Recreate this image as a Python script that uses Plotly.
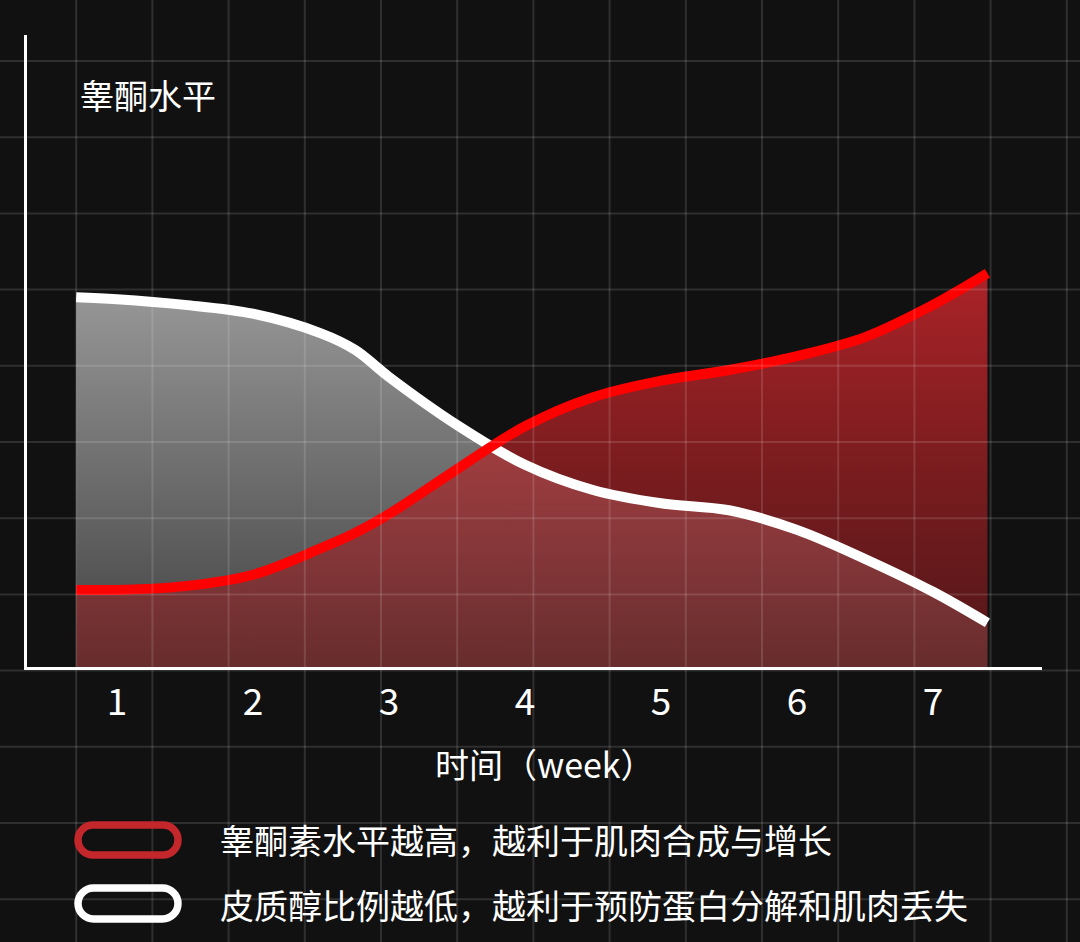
import plotly.graph_objects as go

# ---------------- data ----------------
weeks = [0.7, 1, 1.5, 2, 2.5, 2.75, 3, 3.5, 4, 4.5, 5, 5.5, 6, 6.5, 7, 7.4]
cortisol = [58.5, 58.2, 57.3, 55.9, 52.8, 50.2, 45.9, 38.3, 32.0, 28.0, 25.9, 24.8, 21.7, 17.1, 11.9, 7.0]
testosterone = [12.2, 12.2, 12.8, 14.6, 18.8, 21.2, 24.2, 31.3, 38.1, 42.7, 45.3, 47.0, 49.2, 52.2, 57.3, 62.3]
tick_vals = [1, 2, 3, 4, 5, 6, 7]
tick_text = ["1", "2", "3", "4", "5", "6", "7"]
y_title = "睾酮水平"
x_title = "时间（week）"
legend_texts = ["睾酮素水平越高，越利于肌肉合成与增长", "皮质醇比例越低，越利于预防蛋白分解和肌肉丢失"]

# ---------------- layout geometry ----------------
W, H = 1080, 942
L, R, T, B = 27, 38, 35, 275
PW, PH = W - L - R, H - T - B
FONT = "Noto Sans CJK SC"


def px(xp):
    return (xp - L) / PW


def py(yp):
    return (H - B - yp) / PH


fig = go.Figure()

# fills first (so lines sit on top of both fills)
fig.add_trace(go.Scatter(
    x=weeks, y=cortisol, mode="lines", line=dict(width=0, shape="spline", color="rgba(0,0,0,0)"),
    fill="tozeroy",
    fillgradient=dict(type="vertical", start=0, stop=max(cortisol),
                      colorscale=[[0, "rgba(255,255,255,0.20)"], [1, "rgba(255,255,255,0.56)"]]),
    hoverinfo="skip", showlegend=False))
fig.add_trace(go.Scatter(
    x=weeks, y=testosterone, mode="lines", line=dict(width=0, shape="spline", color="rgba(0,0,0,0)"),
    fill="tozeroy",
    fillgradient=dict(type="vertical", start=0, stop=max(testosterone),
                      colorscale=[[0, "rgba(135,28,30,0.55)"], [1, "rgba(215,40,46,0.78)"]]),
    hoverinfo="skip", showlegend=False))
# lines
fig.add_trace(go.Scatter(x=weeks, y=cortisol, mode="lines",
                         line=dict(width=10, shape="spline", color="#ffffff"),
                         hoverinfo="skip", showlegend=False))
fig.add_trace(go.Scatter(x=weeks, y=testosterone, mode="lines",
                         line=dict(width=10, shape="spline", color="#ff0000"),
                         hoverinfo="skip", showlegend=False))

x0 = 1 + (L - 117) / 136
x1 = 1 + (W - R - 117) / 136

shapes = []
# background grid (whole picture)
grid_col = "rgba(255,255,255,0.13)"
for k in range(1, 15):
    xp = 76.2 * k
    shapes.append(dict(type="line", xref="paper", yref="paper", x0=px(xp), x1=px(xp),
                       y0=py(0), y1=py(H), line=dict(color=grid_col, width=2), layer="above"))
for k in range(0, 12):
    yp = 61 + 76.2 * k
    shapes.append(dict(type="line", xref="paper", yref="paper", x0=px(0), x1=px(W),
                       y0=py(yp), y1=py(yp), line=dict(color=grid_col, width=2), layer="above"))


def pill(xl, yt, xr, yb):
    r = (yb - yt) / 2
    k = 0.5523 * r
    pts = []
    pts.append(f"M{px(xl + r)},{py(yt)}")
    pts.append(f"L{px(xr - r)},{py(yt)}")
    pts.append(f"C{px(xr - r + k)},{py(yt)} {px(xr)},{py(yt + r - k)} {px(xr)},{py(yt + r)}")
    pts.append(f"C{px(xr)},{py(yt + r + k)} {px(xr - r + k)},{py(yb)} {px(xr - r)},{py(yb)}")
    pts.append(f"L{px(xl + r)},{py(yb)}")
    pts.append(f"C{px(xl + r - k)},{py(yb)} {px(xl)},{py(yt + r + k)} {px(xl)},{py(yt + r)}")
    pts.append(f"C{px(xl)},{py(yt + r - k)} {px(xl + r - k)},{py(yt)} {px(xl + r)},{py(yt)}")
    pts.append("Z")
    return " ".join(pts)


shapes.append(dict(type="path", xref="paper", yref="paper", path=pill(78, 825, 178, 855),
                   line=dict(color="#c3262b", width=7.5)))
shapes.append(dict(type="path", xref="paper", yref="paper", path=pill(78, 888, 178, 919),
                   line=dict(color="#ffffff", width=7.5)))

annotations = [
    dict(text=y_title, xref="paper", yref="paper", x=px(78), y=py(94), xanchor="left", yanchor="middle",
         showarrow=False, font=dict(family=FONT, size=34, color="#ffffff")),
    dict(text=x_title, xref="paper", yref="paper", x=px(545), y=py(763), xanchor="center", yanchor="middle",
         showarrow=False, font=dict(family=FONT, size=34, color="#ffffff")),
    dict(text=legend_texts[0], xref="paper", yref="paper", x=px(218), y=py(840), xanchor="left",
         yanchor="middle", showarrow=False, font=dict(family=FONT, size=34, color="#ffffff")),
    dict(text=legend_texts[1], xref="paper", yref="paper", x=px(218), y=py(904), xanchor="left",
         yanchor="middle", showarrow=False, font=dict(family=FONT, size=34, color="#ffffff")),
]

fig.update_layout(
    width=W, height=H, autosize=False,
    margin=dict(l=L, r=R, t=T, b=B, pad=0),
    paper_bgcolor="#111111", plot_bgcolor="rgba(0,0,0,0)",
    showlegend=False, hovermode=False,
    shapes=shapes, annotations=annotations,
    xaxis=dict(range=[x0, x1], tickvals=tick_vals, ticktext=tick_text, showgrid=False, zeroline=False,
               showline=True, linecolor="#ffffff", linewidth=2.5, ticks="outside", ticklen=1,
               tickcolor="rgba(0,0,0,0)",
               tickfont=dict(family=FONT, size=37, color="#ffffff"), fixedrange=True),
    yaxis=dict(range=[0, 100], showgrid=False, zeroline=False, showticklabels=False,
               showline=True, linecolor="#ffffff", linewidth=2.5, ticks="", fixedrange=True),
)

fig.write_html("out.html", config={"displayModeBar": False},
               post_script="document.body.style.margin='0';document.body.style.background='#111111';")
